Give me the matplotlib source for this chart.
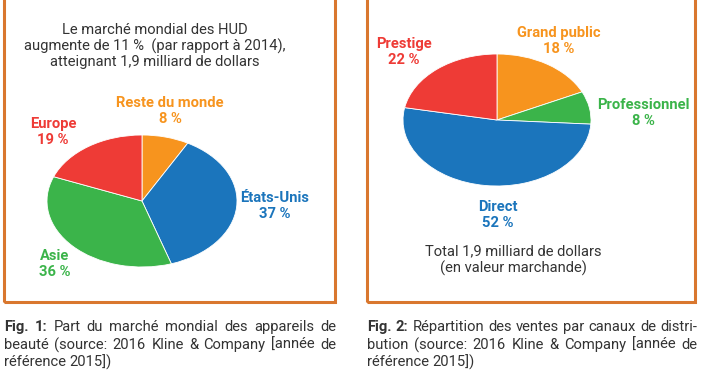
import matplotlib
matplotlib.use("Agg")
import matplotlib.pyplot as plt
from matplotlib.patches import Rectangle

# ---- data ----
fig1_labels = ["Reste du monde", "États-Unis", "Asie", "Europe"]
fig1_values = [8, 37, 36, 19]
fig2_labels = ["Grand public", "Professionnel", "Direct", "Prestige"]
fig2_values = [18, 8, 52, 22]

ORANGE = "#F7941E"
BLUE = "#1B75BC"
GREEN = "#3BB44A"
RED = "#EE3B36"
fig1_colors = [ORANGE, BLUE, GREEN, RED]
fig2_colors = [ORANGE, GREEN, BLUE, RED]
BORDER = "#D9772E"
TXT = "#333333"

plt.rcParams['font.family'] = ['Roboto', 'DejaVu Sans']

W, H = 702, 370
fig = plt.figure(figsize=(W / 100, H / 100), dpi=100)
fig.patch.set_facecolor("white")


def fx(x):
    return x / W


def fy(y):
    return 1 - y / H


# boxes
for (x0, x1) in [(4, 335), (367, 695)]:
    fig.add_artist(Rectangle((fx(x0), fy(302)), fx(x1 - x0), fy(-10) - fy(302),
                             transform=fig.transFigure, fill=False,
                             edgecolor=BORDER, linewidth=2.2))


def pie_axes(cx, cy, rx, ry):
    ax = fig.add_axes([fx(cx - rx), fy(cy + ry), fx(2 * rx), (2 * ry) / H])
    ax.axis("off")
    return ax


ax1 = pie_axes(142, 201, 95, 66)
ax1.pie(fig1_values, colors=fig1_colors, startangle=90, counterclock=False,
        radius=1, wedgeprops=dict(linewidth=0.6, edgecolor="white"))
ax1.set_xlim(-1, 1); ax1.set_ylim(-1, 1); ax1.set_aspect("auto")

ax2 = pie_axes(497, 120, 94, 66)
ax2.pie(fig2_values, colors=fig2_colors, startangle=90, counterclock=False,
        radius=1, wedgeprops=dict(linewidth=0.6, edgecolor="white"))
ax2.set_xlim(-1, 1); ax2.set_ylim(-1, 1); ax2.set_aspect("auto")

# titles
fig.text(fx(155), fy(46), "Le marché mondial des HUD\naugmente de 11 %  (par rapport à 2014),\natteignant 1,9 milliard de dollars",
         ha="center", va="center", fontsize=10.6, color=TXT, linespacing=1.15)

fig.text(fx(513), fy(260), "Total 1,9 milliard de dollars\n(en valeur marchande)",
         ha="center", va="center", fontsize=10.6, color=TXT, linespacing=1.15)

# pie labels
lab1_pos = [(170, 111), (275, 206), (55, 264), (53, 132)]
for lab, val, col, (x, y) in zip(fig1_labels, fig1_values, fig1_colors, lab1_pos):
    fig.text(fx(x), fy(y), f"{lab}\n{val} %", ha="center", va="center",
             fontsize=10.6, fontweight="bold", color=col, linespacing=1.2)

lab2_pos = [(559, 41), (643, 113), (498, 215), (404, 52)]
for lab, val, col, (x, y) in zip(fig2_labels, fig2_values, fig2_colors, lab2_pos):
    fig.text(fx(x), fy(y), f"{lab}\n{val} %", ha="center", va="center",
             fontsize=10.6, fontweight="bold", color=col, linespacing=1.2)

# captions (justified)
fig.canvas.draw()
renderer = fig.canvas.get_renderer()


def justified_line(words, x0, x1, y, bold_first=0, justify=True, size=10.6):
    arts = []
    for i, w in enumerate(words):
        t = fig.text(0, fy(y), w, ha="left", va="center", fontsize=size,
                     color=TXT, fontweight="bold" if i < bold_first else "normal")
        arts.append(t)
    widths = [a.get_window_extent(renderer).width for a in arts]
    if justify and len(words) > 1:
        gap = (x1 - x0 - sum(widths)) / (len(words) - 1)
    else:
        gap = 3.5
    x = x0
    for a, wd in zip(arts, widths):
        a.set_position((fx(x), fy(y)))
        x += wd + gap


cap1 = [
    (["Fig.", "1:", "Part", "du", "marché", "mondial", "des", "appareils", "de"], 2, True),
    (["beauté", "(source:", "2016", "Kline", "&", "Company", "[année", "de"], 0, True),
    (["référence", "2015])"], 0, False),
]
cap2 = [
    (["Fig.", "2:", "Répartition", "des", "ventes", "par", "canaux", "de", "distri-"], 2, True),
    (["bution", "(source:", "2016", "Kline", "&", "Company", "[année", "de"], 0, True),
    (["référence", "2015])"], 0, False),
]
ys = [327, 345, 362]
for (words, b, j), y in zip(cap1, ys):
    justified_line(words, 4, 336, y, bold_first=b, justify=j)
for (words, b, j), y in zip(cap2, ys):
    justified_line(words, 367, 697, y, bold_first=b, justify=j)

fig.savefig("out.png", dpi=100, facecolor="white")
